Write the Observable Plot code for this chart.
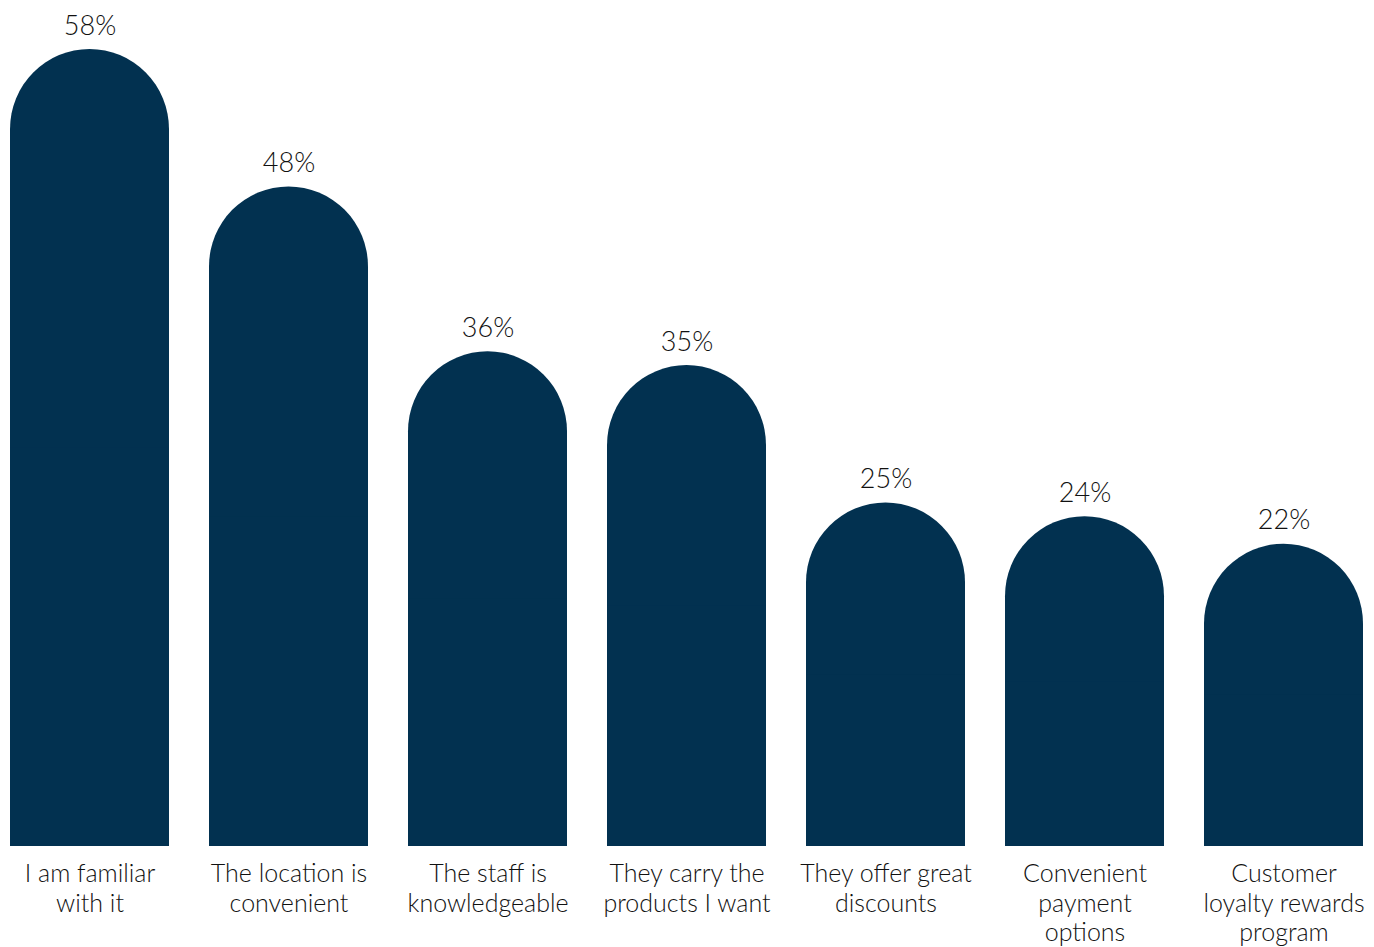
<!DOCTYPE html>
<html>
<head>
<meta charset="utf-8">
<script src="https://cdn.jsdelivr.net/npm/d3@7"></script>
<script src="https://cdn.jsdelivr.net/npm/@observablehq/plot@0.6"></script>
<style>
  html, body { margin: 0; padding: 0; background: #ffffff; }
  #chart svg { display: block; }
</style>
</head>
<body>
<div id="chart"></div>
<script>
const categories = [
  "I am familiar\nwith it",
  "The location is\nconvenient",
  "The staff is\nknowledgeable",
  "They carry the\nproducts I want",
  "They offer great\ndiscounts",
  "Convenient\npayment\noptions",
  "Customer\nloyalty rewards\nprogram"
];
const values = [58, 48, 36, 35, 25, 24, 22];
const valueLabels = ["58%", "48%", "36%", "35%", "25%", "24%", "22%"];

const data = categories.map((c, i) => ({category: c, value: values[i], label: valueLabels[i]}));

const barColor = "#023150";
const font = "Lato, 'Open Sans', sans-serif";

const chart = Plot.plot({
  width: 1374,
  height: 947,
  marginLeft: 10,
  marginRight: 10,
  marginTop: 49,
  marginBottom: 101,
  style: {background: "#ffffff", fontFamily: font},
  x: {domain: categories, paddingInner: 0.2, paddingOuter: 0, axis: null},
  y: {domain: [0, 58], axis: null},
  marks: [
    Plot.barY(data, {x: "category", y: "value", fill: barColor, rx: 80}),
    Plot.barY(data, {x: "category", y1: 0, y2: d => d.value / 2, fill: barColor}),
    Plot.text(data, {
      x: "category", y: "value", text: "label",
      dy: -15, lineAnchor: "bottom",
      fontSize: 27, fontWeight: 300, fill: "#111111", fontFamily: font
    }),
    Plot.text(data, {
      x: "category", y: 0, text: "category",
      dy: 15, lineAnchor: "top", lineHeight: 1.17,
      fontSize: 25, fontWeight: 300, fill: "#111111", fontFamily: font
    })
  ]
});
document.getElementById("chart").appendChild(chart);
</script>
</body>
</html>
